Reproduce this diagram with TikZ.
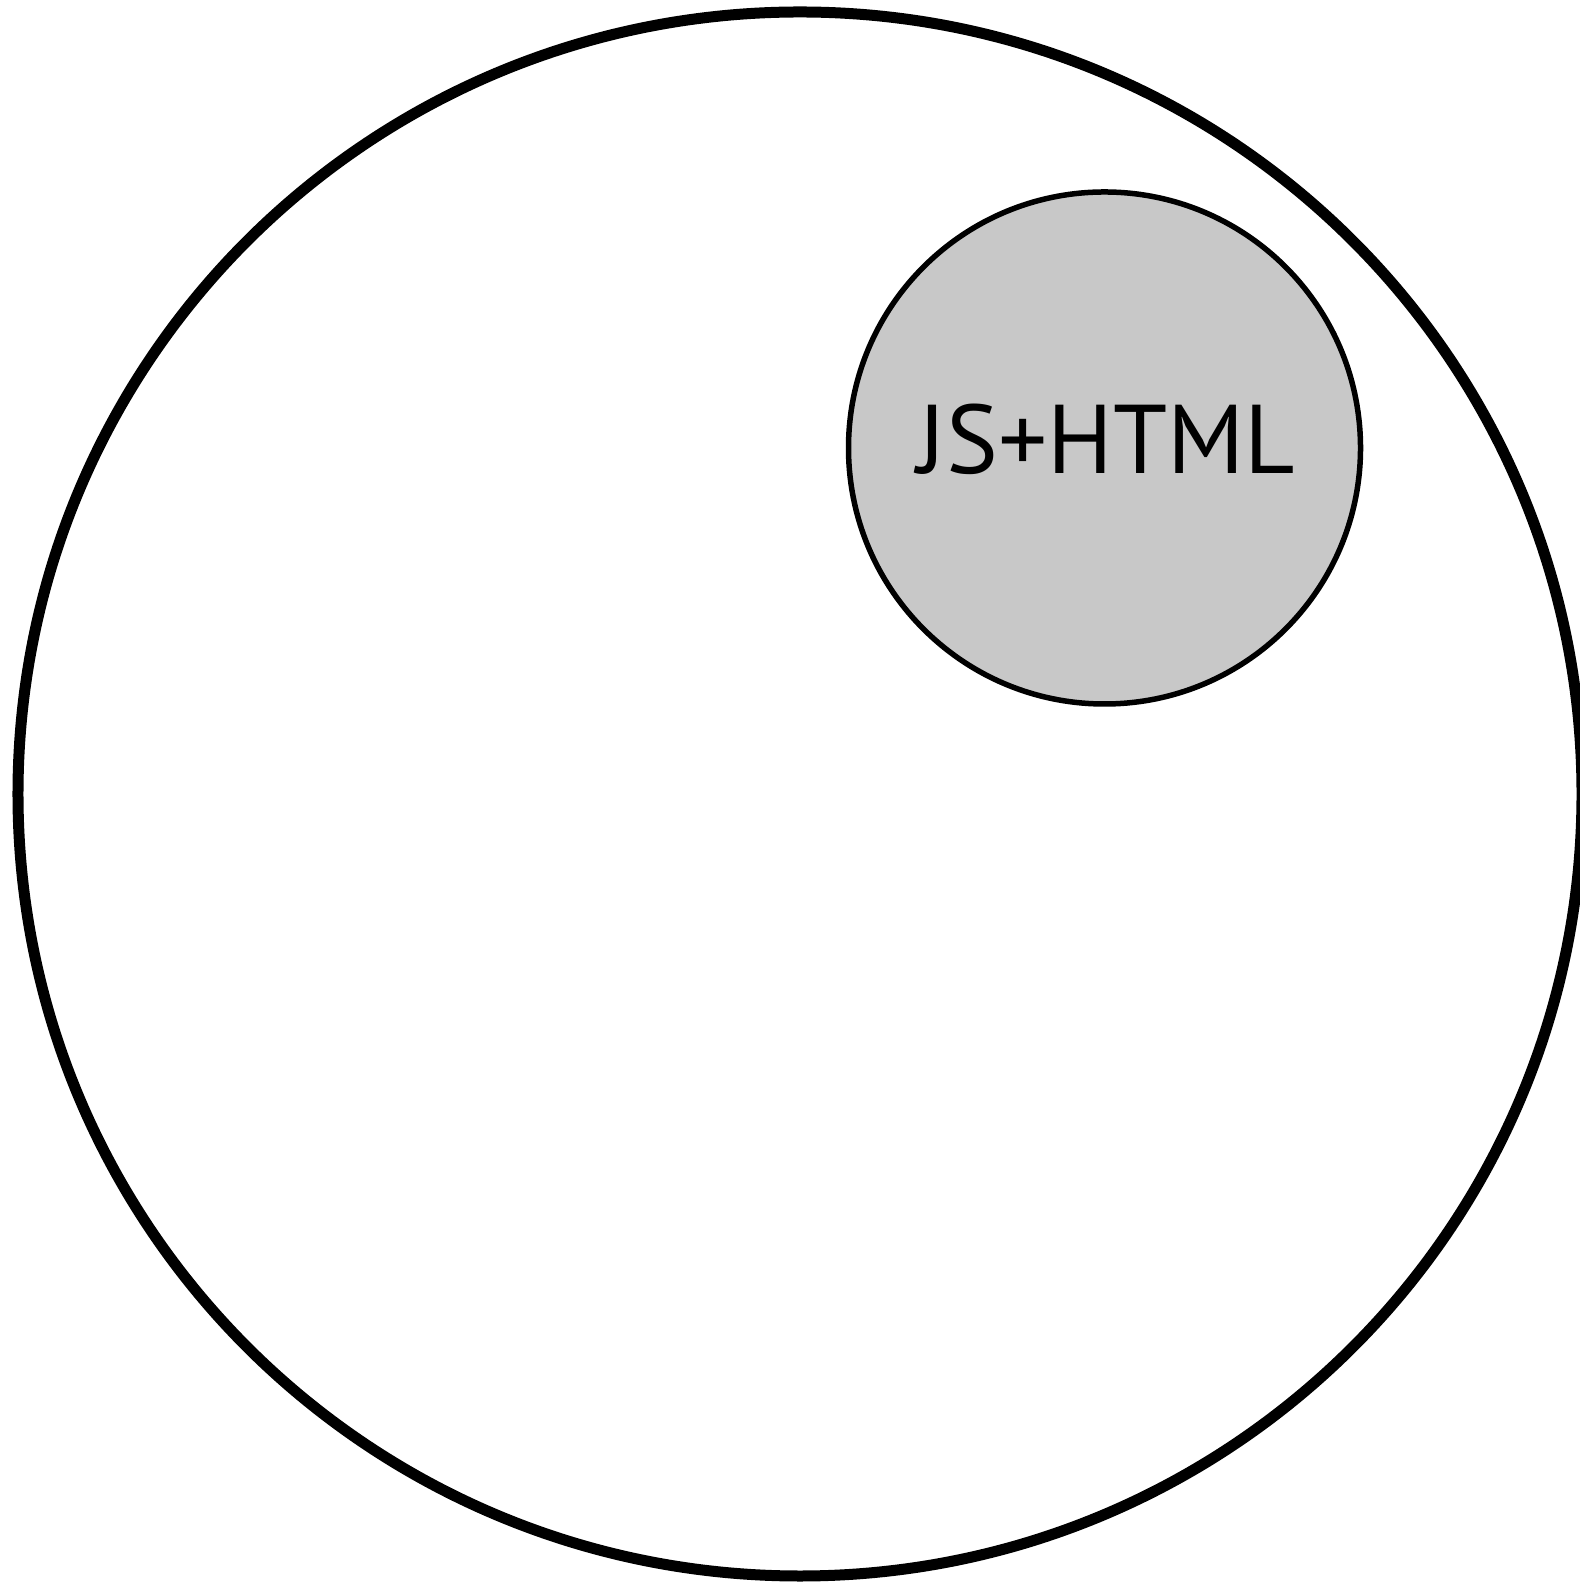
\documentclass[tikz,border=0pt]{standalone}
\usepackage{fontspec}
\setmainfont{PT Sans}
\usepackage{xcolor}
\usetikzlibrary{positioning}
\definecolor{pagegrey}{HTML}{C8C8C8}
\tikzset{
  world/.style={circle, draw, line width=11bp, inner sep=0pt,
                minimum size=1564bp},
  page/.style={circle, draw, line width=5.5bp, inner sep=0pt,
               minimum size=512bp, fill=pagegrey},
  tag/.style={font=\fontsize{98}{98}\selectfont, inner sep=0pt},
}
\begin{document}
\begin{tikzpicture}[x=1bp, y=1bp]
  \useasboundingbox (0,0) rectangle (1580,1586);
  \clip (0,0) rectangle (1580,1586);
  \node[world] (outer) at (800,792) {};
  \node[page] (inner) at (1104.5,1138) {};
  \node[tag, anchor=base] (jshtml) at ([xshift=2bp, yshift=-26bp]inner.center) {JS+HTML};
\end{tikzpicture}
\end{document}
